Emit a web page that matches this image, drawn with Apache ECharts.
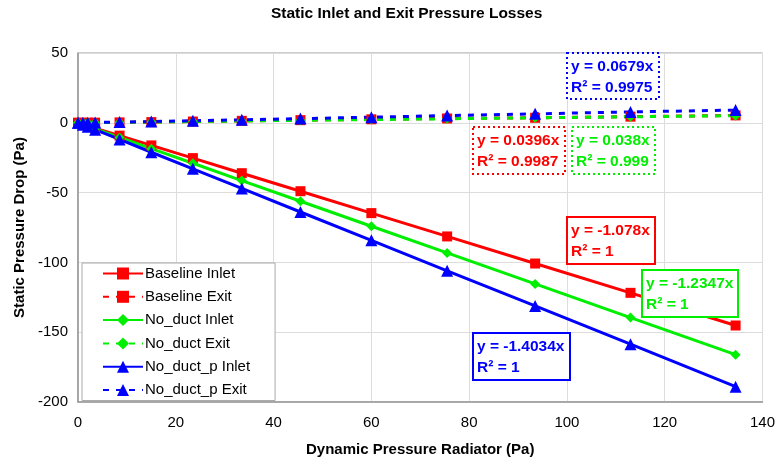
<!DOCTYPE html>
<html>
<head>
<meta charset="utf-8">
<script src="https://cdn.jsdelivr.net/npm/echarts@6/dist/echarts.min.js"></script>
<style>html,body{margin:0;padding:0;background:#fff}#c{width:778px;height:466px}</style>
</head>
<body>
<div id="c"></div>
<script>
const xValues = [0, 1, 2, 3.5, 8.5, 15, 23.5, 33.5, 45.5, 60, 75.5, 93.5, 113, 134.5];
const baselineInlet = [0, -1.1, -2.2, -3.8, -9.2, -16.2, -25.3, -36.1, -49.0, -64.7, -81.4, -100.8, -121.8, -145.2];
const baselineExit  = [0, 0.0, 0.1, 0.1, 0.3, 0.5, 0.9, 1.4, 1.9, 2.5, 3.1, 3.6, 4.4, 5.3];
const noductInlet   = [0, -1.2, -2.5, -4.3, -10.5, -18.5, -29.0, -41.4, -56.2, -74.1, -93.2, -115.4, -139.5, -166.1];
const noductExit    = [0, 0.0, 0.1, 0.1, 0.3, 0.5, 0.9, 1.3, 1.8, 2.3, 2.9, 3.6, 4.3, 5.1];
const noductpInlet  = [0, -1.4, -2.8, -4.9, -11.9, -21.1, -33.0, -47.0, -63.9, -84.2, -106.0, -131.2, -158.6, -189.0];
const noductpExit   = [0, 0.1, 0.1, 0.2, 0.5, 0.9, 1.5, 2.2, 3.0, 4.0, 5.2, 6.4, 7.8, 9.1];
const xTicks = [0, 20, 40, 60, 80, 100, 120, 140];
const yTicks = [-200, -150, -100, -50, 0, 50];

const RED = '#ff0000', GREEN = '#00ee00', BLUE = '#0000ff';
const FONT = '"Liberation Sans", Arial, sans-serif';

function pairs(ys) { return xValues.map((x, i) => [x, ys[i]]); }

function mk(name, ys, color, symbol, size, dashed) {
  return {
    name: name, type: 'line', data: pairs(ys),
    symbol: symbol, symbolSize: size,
    itemStyle: { color: color },
    lineStyle: { color: color, width: 3, type: dashed ? [6, 7] : 'solid' },
    emphasis: { disabled: true },
    animation: false, z: dashed ? 3 : 2
  };
}

const chart = echarts.init(document.getElementById('c'), null, { renderer: 'canvas' });

function box(x, y, w, h, color, dotted, l1, l2) {
  return [
    { type: 'rect', shape: { x: x, y: y, width: w, height: h },
      style: { fill: '#fff', stroke: color, lineWidth: 2, lineDash: dotted ? [2, 3] : null }, z: 100 },
    { type: 'text', x: x + 4, y: y + 3, z: 101,
      style: { text: l1 + '\n' + l2, fill: color, font: 'bold 15.5px ' + FONT, lineHeight: 21 } }
  ];
}

const option = {
  animation: false,
  backgroundColor: '#fff',
  title: {
    text: 'Static Inlet and Exit Pressure Losses',
    left: 266, top: 1,
    textStyle: { fontFamily: FONT, fontWeight: 'bold', fontSize: 15.5, color: '#000' }
  },
  grid: { left: 78, right: 8, top: 53, bottom: 64, show: true, borderColor: '#999', borderWidth: 1 },
  xAxis: {
    type: 'value', min: xTicks[0], max: xTicks[xTicks.length - 1], interval: 20,
    name: 'Dynamic Pressure Radiator (Pa)', nameLocation: 'middle', nameGap: 40,
    nameTextStyle: { fontFamily: FONT, fontWeight: 'bold', fontSize: 15, color: '#000' },
    axisLine: { onZero: false, lineStyle: { color: '#999', width: 1.5 } },
    axisTick: { show: false },
    axisLabel: { fontFamily: FONT, fontSize: 15, color: '#000', margin: 13 },
    splitLine: { lineStyle: { color: '#dcdcdc', width: 1 } }
  },
  yAxis: {
    type: 'value', min: yTicks[0], max: yTicks[yTicks.length - 1], interval: 50,
    name: 'Static Pressure Drop (Pa)', nameLocation: 'middle', nameGap: 44,
    nameTextStyle: { fontFamily: FONT, fontWeight: 'bold', fontSize: 15, color: '#000' },
    axisLine: { show: true, lineStyle: { color: '#999', width: 1.5 } },
    axisTick: { show: false },
    axisLabel: { fontFamily: FONT, fontSize: 15, color: '#000', margin: 10 },
    splitLine: { lineStyle: { color: '#dcdcdc', width: 1 } }
  },
  legend: {
    orient: 'vertical', left: 82, top: 263,
    backgroundColor: '#fff', borderColor: '#aaa', borderWidth: 1,
    padding: [3, 25, 3, 20], itemGap: 8.3, itemWidth: 40, itemHeight: 15,
    textStyle: { fontFamily: FONT, fontSize: 15, color: '#000', padding: [0, 0, 0, -3] },
    data: ['Baseline Inlet', 'Baseline Exit', 'No_duct Inlet', 'No_duct Exit', 'No_duct_p Inlet', 'No_duct_p Exit']
  },
  series: [
    mk('Baseline Inlet', baselineInlet, RED, 'rect', 10, false),
    mk('Baseline Exit', baselineExit, RED, 'rect', 10, true),
    mk('No_duct Inlet', noductInlet, GREEN, 'diamond', 10, false),
    mk('No_duct Exit', noductExit, GREEN, 'diamond', 10, true),
    mk('No_duct_p Inlet', noductpInlet, BLUE, 'triangle', 12, false),
    mk('No_duct_p Exit', noductpExit, BLUE, 'triangle', 12, true)
  ],
  graphic: [].concat(
    box(567, 53, 92, 46, BLUE, true, 'y = 0.0679x', 'R² = 0.9975'),
    box(473, 127, 92, 47, RED, true, 'y = 0.0396x', 'R² = 0.9987'),
    box(572, 127, 83, 47, GREEN, true, 'y = 0.038x', 'R² = 0.999'),
    box(567, 217, 88, 47, RED, false, 'y = -1.078x', 'R² = 1'),
    box(642, 270, 96, 47, GREEN, false, 'y = -1.2347x', 'R² = 1'),
    box(473, 333, 97, 47, BLUE, false, 'y = -1.4034x', 'R² = 1')
  )
};
chart.setOption(option);
</script>
</body>
</html>
